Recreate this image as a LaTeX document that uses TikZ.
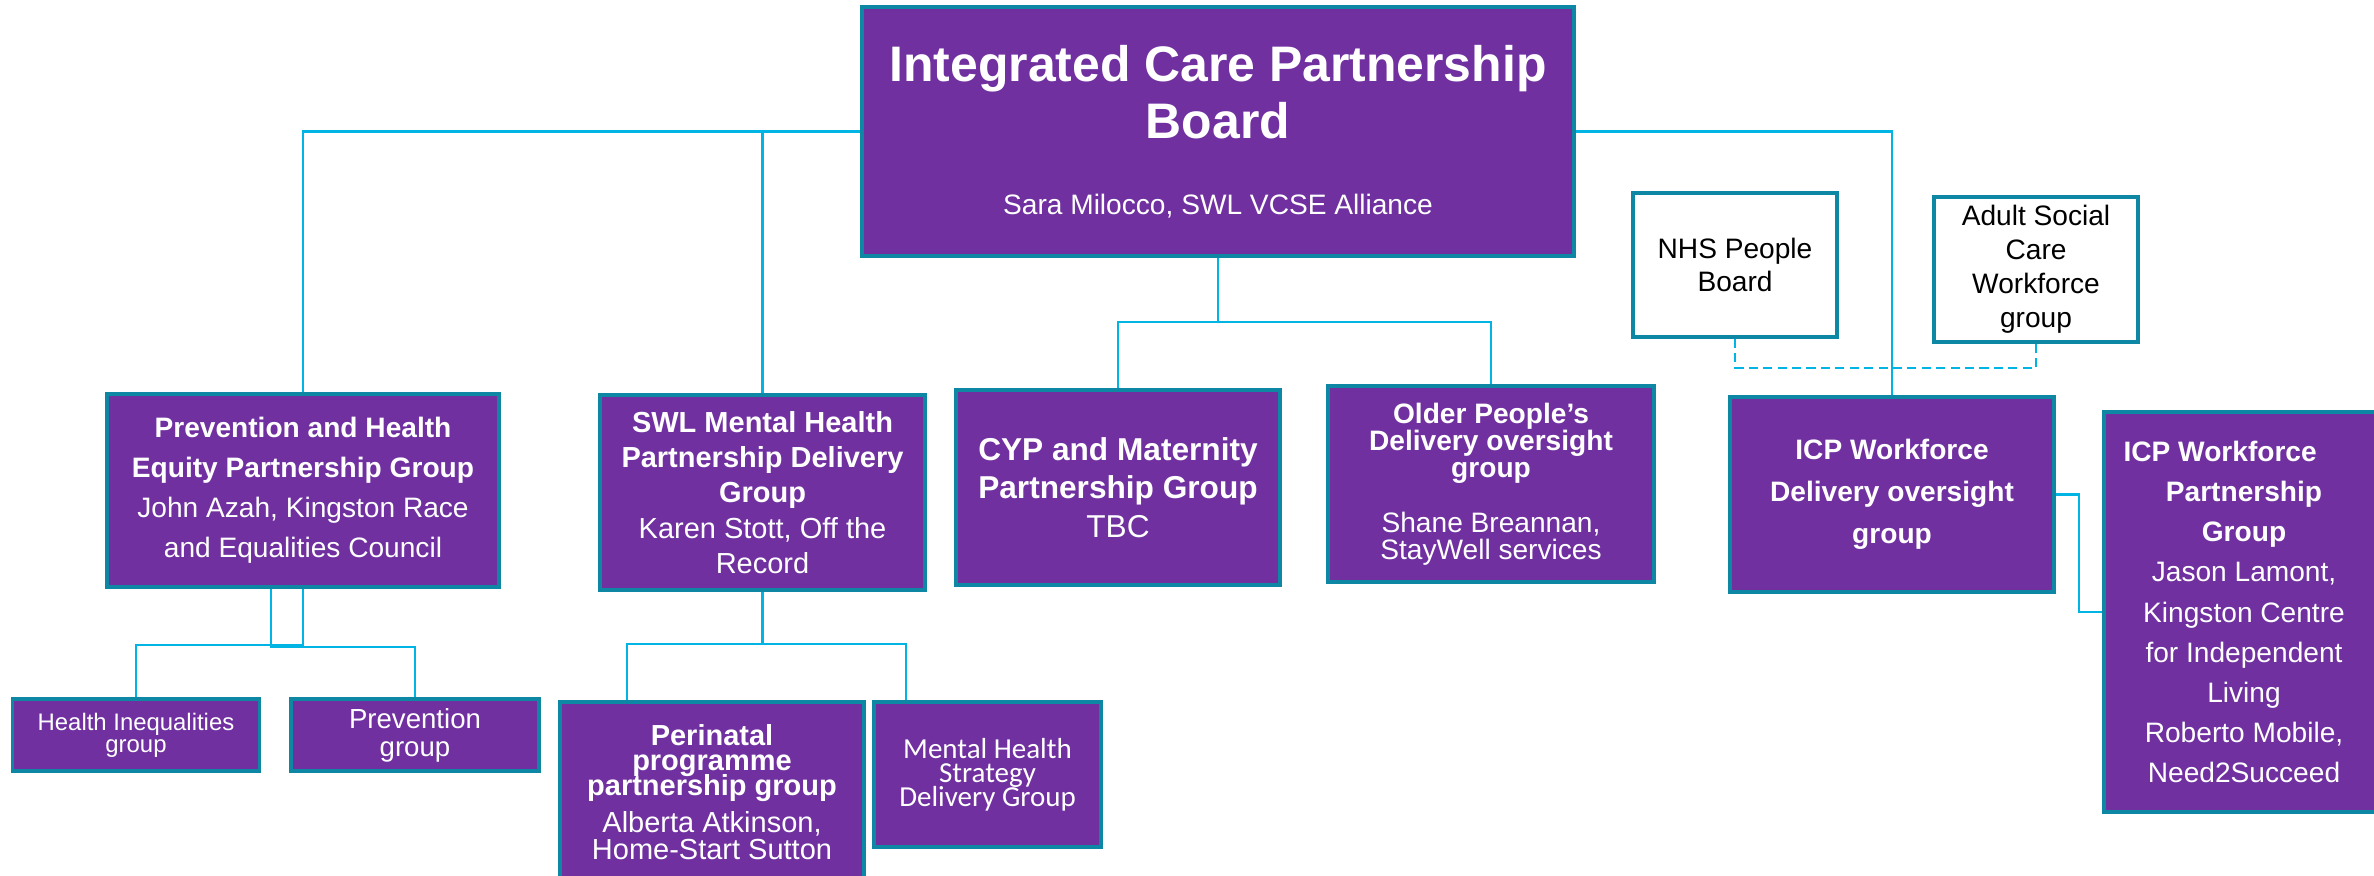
\documentclass[tikz,border=0pt]{standalone}
\usepackage{fontspec}
\setmainfont{Liberation Sans}
\newfontfamily\calfont{Carlito}
\usepackage{tikz}
\definecolor{icppurple}{RGB}{112,48,160}
\definecolor{boxline}{RGB}{14,135,165}
\definecolor{linkcyan}{RGB}{0,180,228}
\setlength{\lineskiplimit}{-20pt}

\begin{document}
\begin{tikzpicture}[
			grpbox/.style={draw=boxline, fill=icppurple, text=white, align=center, inner sep=0pt, line width=0.9pt},
			peoplebox/.style={draw=boxline, fill=white, text=black, align=center, inner sep=0pt, line width=0.9pt},
			link/.style={draw=linkcyan, line width=0.6pt}
		]

		\useasboundingbox (0,0) rectangle (23.74,-8.75);

		\node[grpbox, minimum width=7.12cm, minimum height=2.49cm, font=\fontsize{14.2}{16.5}\selectfont\bfseries] (board) at (12.18, -1.315) {Integrated Care Partnership\\Board\\[5pt]{\mdseries\fontsize{8}{9.6}\selectfont Sara Milocco, SWL VCSE Alliance}};

		\node[grpbox, minimum width=3.92cm, minimum height=1.93cm, font=\fontsize{8}{11.4}\selectfont] (prevgrp) at (3.03, -4.905) {\textbf{Prevention and Health}\\\textbf{Equity Partnership Group}\\John Azah, Kingston Race\\and Equalities Council};
		\node[grpbox, minimum width=3.25cm, minimum height=1.95cm, font=\fontsize{8.25}{10}\selectfont] (mhgrp) at (7.625, -4.925) {\textbf{SWL Mental Health}\\\textbf{Partnership Delivery}\\\textbf{Group}\\Karen Stott, Off the\\Record};
		\node[grpbox, minimum width=3.24cm, minimum height=1.95cm, font=\fontsize{9}{11}\selectfont] (cypgrp) at (11.18, -4.875) {\textbf{CYP and Maternity}\\\textbf{Partnership Group}\\TBC};
		\node[grpbox, minimum width=3.26cm, minimum height=1.96cm, font=\fontsize{8}{7.7}\selectfont] (oldgrp) at (14.91, -4.84) {\textbf{Older People’s}\\\textbf{Delivery oversight}\\\textbf{group}\\[7.9pt]Shane Breannan,\\StayWell services};
		\node[grpbox, minimum width=3.24cm, minimum height=1.95cm, font=\fontsize{8}{12}\selectfont\bfseries] (wfdel) at (18.92, -4.945) {ICP Workforce\\Delivery oversight\\group};
		\node[grpbox, minimum width=2.80cm, minimum height=4.00cm, font=\fontsize{8}{11.4}\selectfont] (wfpart) at (22.44, -6.12) {\textbf{ICP Workforce}\hspace*{1.7em}\\\textbf{Partnership}\\\textbf{Group}\\Jason Lamont,\\Kingston Centre\\for Independent\\Living\\Roberto Mobile,\\Need2Succeed};

		\node[peoplebox, minimum width=2.04cm, minimum height=1.44cm, font=\fontsize{8}{9.4}\selectfont] (nhsboard) at (17.35, -2.65) {NHS People\\Board};
		\node[peoplebox, minimum width=2.04cm, minimum height=1.45cm, font=\fontsize{8}{9.7}\selectfont] (ascgrp) at (20.36, -2.695) {Adult Social\\Care\\Workforce\\group};

		\node[grpbox, minimum width=2.475cm, minimum height=0.72cm, font=\fontsize{6.8}{6.3}\selectfont] (higrp) at (1.36, -7.35) {Health Inequalities\\group};
		\node[grpbox, minimum width=2.48cm, minimum height=0.72cm, font=\fontsize{7.85}{8}\selectfont] (prevent) at (4.15, -7.35) {Prevention\\group};
		\node[grpbox, minimum width=3.04cm, minimum height=1.80cm, font=\fontsize{8.25}{7.1}\selectfont] (perinatal) at (7.12, -7.92) {\textbf{Perinatal}\\\textbf{programme}\\\textbf{partnership group}\\[3.5pt]Alberta Atkinson,\\[0.5pt]Home-Start Sutton};
		\node[grpbox, minimum width=2.27cm, minimum height=1.45cm, font=\calfont\fontsize{8.25}{6.8}\selectfont] (mhstrat) at (9.875, -7.745) {Mental Health\\Strategy\\Delivery Group};

		\coordinate (boardfork) at (12.18, -3.22);
		\coordinate (nhsfork) at (17.35, -3.68);
		\coordinate (wffork) at (20.79, -4.945);
		\coordinate (prevfork) at (3.03, -6.45);
		\coordinate (mhfork) at (7.625, -6.44);

		\draw[link] (board.west) -| (prevgrp.north);
		\draw[link] (board.west) -| (mhgrp.north);
		\draw[link] (board.east) -| (wfdel.north);
		\draw[link] (board.south) -- (boardfork) -| (cypgrp.north);
		\draw[link] (boardfork) -| (oldgrp.north);

		\draw[link, dash pattern=on 2.6pt off 1.5pt] (nhsboard.south) -- (nhsfork) -| (ascgrp.south);
		\draw[link] (wfdel.east) -- (wffork) |- (wfpart.west);

		\draw[link] (prevgrp.south) -- (prevfork) -| (higrp.north);
		\draw[link] ([xshift=-0.32cm]prevgrp.south) -- ++(0,-0.58) -| (prevent.north);

		\draw[link] (mhgrp.south) -- (mhfork) -| ([xshift=-0.85cm]perinatal.north);
		\draw[link] (mhfork) -| ([xshift=-0.815cm]mhstrat.north);

	\end{tikzpicture}
\end{document}
